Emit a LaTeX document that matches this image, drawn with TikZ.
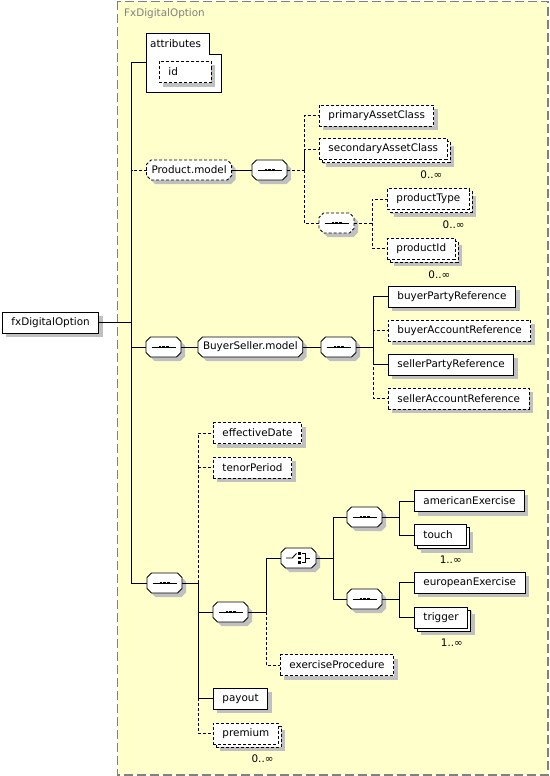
\documentclass[tikz,border=0pt]{standalone}
\usepackage{fontspec}
\setmainfont{DejaVu Sans}
\usepackage{xcolor}
\usepackage{tikz}
\usetikzlibrary{positioning, shadows}

\definecolor{ctfill}{RGB}{255,255,204}
\definecolor{ctline}{RGB}{128,128,128}
\definecolor{shadowgray}{RGB}{192,192,192}

% rectangle with cut corners, for compositors and group references
\makeatletter
\pgfdeclareshape{octobox}{
  \inheritsavedanchors[from=rectangle]
  \inheritanchorborder[from=rectangle]
  \inheritanchor[from=rectangle]{center}
  \inheritanchor[from=rectangle]{north}
  \inheritanchor[from=rectangle]{south}
  \inheritanchor[from=rectangle]{east}
  \inheritanchor[from=rectangle]{west}
  \inheritanchor[from=rectangle]{north east}
  \inheritanchor[from=rectangle]{north west}
  \inheritanchor[from=rectangle]{south east}
  \inheritanchor[from=rectangle]{south west}
  \inheritanchor[from=rectangle]{text}
  \inheritanchor[from=rectangle]{base}
  \inheritanchor[from=rectangle]{mid}
  \backgroundpath{%
    \southwest \edef\octxa{\the\pgf@x}\edef\octya{\the\pgf@y}%
    \northeast \edef\octxb{\the\pgf@x}\edef\octyb{\the\pgf@y}%
    \pgf@x=\octxa\relax \advance\pgf@x by 4.5pt \edef\octxc{\the\pgf@x}%
    \pgf@x=\octxb\relax \advance\pgf@x by -4.5pt \edef\octxd{\the\pgf@x}%
    \pgf@y=\octya\relax \advance\pgf@y by 4.5pt \edef\octyc{\the\pgf@y}%
    \pgf@y=\octyb\relax \advance\pgf@y by -4.5pt \edef\octyd{\the\pgf@y}%
    \pgfpathmoveto{\pgfqpoint{\octxc}{\octya}}%
    \pgfpathlineto{\pgfqpoint{\octxd}{\octya}}%
    \pgfpathlineto{\pgfqpoint{\octxb}{\octyc}}%
    \pgfpathlineto{\pgfqpoint{\octxb}{\octyd}}%
    \pgfpathlineto{\pgfqpoint{\octxd}{\octyb}}%
    \pgfpathlineto{\pgfqpoint{\octxc}{\octyb}}%
    \pgfpathlineto{\pgfqpoint{\octxa}{\octyd}}%
    \pgfpathlineto{\pgfqpoint{\octxa}{\octyc}}%
    \pgfpathclose
  }
}
\makeatother

\begin{document}
\begin{tikzpicture}[
    x=1pt, y=-1pt,
    font=\fontsize{10.4}{12}\selectfont,
    link/.style={line width=0.9pt, draw=black},
    optlink/.style={link, dash pattern=on 3pt off 2pt},
    optional/.style={dash pattern=on 3pt off 2pt},
    shade/.style={drop shadow={shadow xshift=4pt, shadow yshift=-4pt, fill=shadowgray, opacity=1}},
    elem/.style={rectangle, draw=black, fill=white, line width=0.9pt, minimum height=21pt, minimum width=52pt, inner xsep=9pt, inner ysep=2pt, anchor=west, shade},
    shortbox/.style={text width=34pt, align=left},
    multi/.style={drop shadow={shadow xshift=7pt, shadow yshift=-7pt, fill=shadowgray, opacity=1}, general shadow={shadow xshift=3pt, shadow yshift=-3pt, fill=white, draw=black}},
    mult/.style={inner sep=0pt, anchor=north east},
    groupref/.style={octobox, draw=black, fill=white, line width=0.9pt, minimum height=20pt, inner xsep=5pt, inner ysep=2pt, outer sep=0pt, anchor=west, shade},
    compositor/.style={octobox, draw=black, fill=white, line width=0.9pt, minimum width=35pt, minimum height=20pt, inner sep=0pt, outer sep=0pt, anchor=west, shade},
    seqbox/.style={compositor, path picture={
        \draw[solid, black, line width=0.9pt] ([xshift=-12pt]path picture bounding box.center) -- ([xshift=12pt]path picture bounding box.center);
        \foreach \dx in {-3.6,0,3.6}
            \fill[black] ([xshift=\dx pt]path picture bounding box.center) ++(-1.4pt,-1.4pt) rectangle ++(2.8pt,2.8pt);
    }},
    choicebox/.style={compositor, path picture={
        \draw[solid, black, line width=0.9pt] ([xshift=-12.3pt]path picture bounding box.center) -- ([xshift=-6.3pt]path picture bounding box.center) -- ([xshift=-2pt, yshift=4.5pt]path picture bounding box.center);
        \foreach \dy in {-4.5,0,4.5}
            \fill[black] ([xshift=0.6pt, yshift=\dy pt]path picture bounding box.center) ++(-1.4pt,-1.4pt) rectangle ++(2.8pt,2.8pt);
        \draw[solid, black, line width=0.9pt] ([xshift=3pt, yshift=4.5pt]path picture bounding box.center) -- ([xshift=7pt, yshift=4.5pt]path picture bounding box.center) -- ([xshift=7pt, yshift=-4.5pt]path picture bounding box.center) -- ([xshift=3pt, yshift=-4.5pt]path picture bounding box.center);
        \draw[solid, black, line width=0.9pt] ([xshift=7pt]path picture bounding box.center) -- ([xshift=11.3pt]path picture bounding box.center);
    }},
    ctbox/.style={fill=ctfill, draw=ctline, line width=1.1pt, dash pattern=on 9pt off 4pt}
]
    \useasboundingbox (0,0) rectangle (549,776);

    % complex type area
    \draw[ctbox] (117.5,1.5) rectangle (548,775);
    \node[anchor=west, inner sep=0pt, text=ctline] (ctlbl) at (124,13.5) {FxDigitalOption};

    % junction columns
    \coordinate (trunk) at (131.5,0);
    \coordinate (j1) at (304,0);
    \coordinate (j2) at (372,0);
    \coordinate (j3) at (373,0);
    \coordinate (j4) at (198,0);
    \coordinate (j5) at (266,0);
    \coordinate (j6) at (333,0);
    \coordinate (j7) at (399,0);

    % root element
    \node[elem] (fx) at (2,322.5) {fxDigitalOption};

    % attributes
    \node[anchor=north west, minimum width=74.5pt, minimum height=58.5pt, inner sep=0pt] (attr) at (146.5,33.5) {};
    \draw[link, fill=white] (attr.north west) -- ++(62.5,0) -- ++(0,20.5) -- ++(12,0) |- (attr.south west) -- cycle;
    \node[anchor=west, inner sep=0pt] (attrlbl) at (150,43.5) {attributes};
    \node[elem, optional, shortbox] (id) at (159,72) {id};

    % Product.model
    \node[groupref, optional] (pm) at (146.5,170) {Product.model};
    \node[seqbox] (s1) at (252,170) {};
    \node[elem, optional] (pac) at (319,115.5) {primaryAssetClass};
    \node[elem, optional, multi] (sac) at (319,149) {secondaryAssetClass};
    \node[mult] (sacm) at ([shift={(-5pt,-11pt)}]sac.south east) {0..∞};
    \node[seqbox, optional] (s2) at (319,223) {};
    \node[elem, optional, multi] (ptype) at (387,199) {productType};
    \node[mult] (ptypem) at ([shift={(-5pt,-11pt)}]ptype.south east) {0..∞};
    \node[elem, optional, multi] (pid) at (387,248.5) {productId};
    \node[mult] (pidm) at ([shift={(-5pt,-11pt)}]pid.south east) {0..∞};

    % BuyerSeller.model
    \node[seqbox] (s3) at (146,347) {};
    \node[groupref] (bs) at (198,347) {BuyerSeller.model};
    \node[seqbox] (s4) at (321,347) {};
    \node[elem] (bpr) at (388,296.5) {buyerPartyReference};
    \node[elem, optional] (bar) at (388,330.5) {buyerAccountReference};
    \node[elem] (spr) at (388,364.5) {sellerPartyReference};
    \node[elem, optional] (sar) at (388,398.5) {sellerAccountReference};

    % option details
    \node[seqbox] (s5) at (147,583) {};
    \node[elem, optional] (ed) at (213,433) {effectiveDate};
    \node[elem, optional] (tp) at (213,467.5) {tenorPeriod};
    \node[seqbox] (s6) at (213,612) {};
    \node[choicebox] (ch) at (281,558) {};
    \node[seqbox] (s7) at (347,517) {};
    \node[seqbox] (s8) at (347,599) {};
    \node[elem] (ae) at (414,501) {americanExercise};
    \node[elem, multi, shortbox] (touch) at (414,535) {touch};
    \node[mult] (touchm) at ([shift={(-5pt,-10pt)}]touch.south east) {1..∞};
    \node[elem] (ee) at (414,582.5) {europeanExercise};
    \node[elem, multi] (trig) at (414,617.5) {trigger};
    \node[mult] (trigm) at ([shift={(-5pt,-10pt)}]trig.south east) {1..∞};
    \node[elem, optional] (ep) at (280,665) {exerciseProcedure};
    \node[elem] (pay) at (213,698.5) {payout};
    \node[elem, optional, multi] (prem) at (213,733.5) {premium};
    \node[mult] (premm) at ([shift={(-5pt,-10pt)}]prem.south east) {0..∞};

    % connectors
    \draw[link] (fx.east) -- (fx.east -| trunk) |- (attr.west);
    \draw[optlink] (fx.east -| trunk) |- (pm.west);
    \draw[link] (fx.east -| trunk) |- (s3.west);
    \draw[link] (fx.east -| trunk) |- (s5.west);

    \draw[link] (pm.east) -- (s1.west);
    \draw[optlink] (s1.east) -- (s1.east -| j1) |- (pac.west);
    \draw[optlink] (s1.east -| j1) |- (sac.west);
    \draw[optlink] (s1.east -| j1) |- (s2.west);
    \draw[optlink] (s2.east) -- (s2.east -| j2) |- (ptype.west);
    \draw[optlink] (s2.east -| j2) |- (pid.west);

    \draw[link] (s3.east) -- (bs.west);
    \draw[link] (bs.east) -- (s4.west);
    \draw[link] (s4.east) -- (s4.east -| j3) |- (bpr.west);
    \draw[optlink] (s4.east -| j3) |- (bar.west);
    \draw[link] (s4.east -| j3) |- (spr.west);
    \draw[optlink] (s4.east -| j3) |- (sar.west);

    \draw[link] (s5.east) -- (s5.east -| j4) |- (s6.west);
    \draw[link] (s5.east -| j4) |- (pay.west);
    \draw[optlink] (s5.east -| j4) |- (ed.west);
    \draw[optlink] (s5.east -| j4) |- (tp.west);
    \draw[optlink] (s5.east -| j4) |- (prem.west);
    \draw[link] (s6.east) -- (s6.east -| j5) |- (ch.west);
    \draw[optlink] (s6.east -| j5) |- (ep.west);
    \draw[link] (ch.east) -- (ch.east -| j6) |- (s7.west);
    \draw[link] (ch.east -| j6) |- (s8.west);
    \draw[link] (s7.east) -- (s7.east -| j7) |- (ae.west);
    \draw[link] (s7.east -| j7) |- (touch.west);
    \draw[link] (s8.east) -- (s8.east -| j7) |- (ee.west);
    \draw[link] (s8.east -| j7) |- (trig.west);
\end{tikzpicture}
\end{document}
